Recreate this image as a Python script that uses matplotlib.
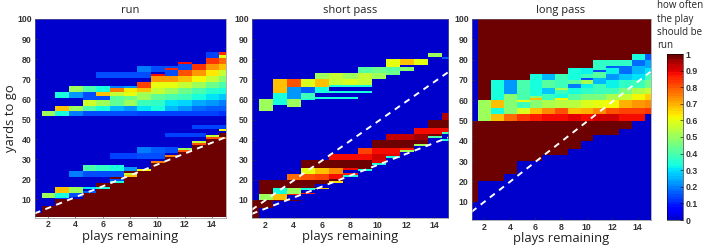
import numpy as np
import matplotlib
matplotlib.use("Agg")
import matplotlib.pyplot as plt
from matplotlib.colors import ListedColormap

plays = list(range(1, 16))
x_ticks = [2, 4, 6, 8, 10, 12, 14]
y_ticks = [10, 20, 30, 40, 50, 60, 70, 80, 90, 100]
bar_ticks = [0, 0.1, 0.2, 0.3, 0.4, 0.5, 0.6, 0.7, 0.8, 0.9, 1]
bar_labels = ["0", "0.1", "0.2", "0.3", "0.4", "0.5", "0.6", "0.7", "0.8", "0.9", "1"]

# each play: (yards from, yards to, how often the play should be run)
run_cells = {
    1: [(0, 3, 1)],
    2: [(0, 6.5, 1), (10.5, 13, 0.5), (51, 53.5, 0.5)],
    3: [(0, 10, 1), (10, 10.5, 0.12), (10.5, 13, 0.33), (13, 16, 0.68), (51, 53.5, 0.33), (53.5, 56, 0.68), (60, 63, 0.33)],
    4: [(0, 10, 1), (11, 13, 0.15), (13, 16, 0.5), (21, 24, 0.2), (51, 53.5, 0.2), (53.5, 56, 0.5), (60, 63, 0.22), (63, 66, 0.5)],
    5: [(0, 13, 1), (13, 14, 0.16), (15, 16, 0.3), (21, 24, 0.15), (24, 27, 0.4), (51, 53.5, 0.15), (53.5, 56, 0.4), (56, 59, 0.57), (59, 63, 0.15), (63, 66, 0.4)],
    6: [(0, 15, 1), (15, 16, 0.33), (16, 18, 1), (21, 24, 0.15), (24, 27, 0.36), (51, 53.5, 0.15), (53.5, 56, 0.33), (56, 59, 0.5), (59, 61, 0.15), (61, 63, 0.68), (63, 66, 0.33), (70, 73, 0.15)],
    7: [(0, 18, 1), (18, 19, 0.33), (19, 20, 0.15), (20, 21, 1), (21, 24, 0.15), (24, 27, 0.34), (30, 33, 0.14), (51, 53.5, 0.15), (53.5, 56, 0.26), (56, 59, 0.43), (59, 61, 0.42), (61, 63, 0.55), (63, 65, 0.75), (65, 66, 0.2), (70, 73, 0.15)],
    8: [(0, 21, 1), (21, 22, 0.68), (22, 23, 0.55), (23, 24, 1), (24, 26, 0.22), (30, 33, 0.14), (51, 53.5, 0.15), (53.5, 56, 0.22), (56, 59, 0.5), (59, 61, 0.45), (61, 63, 0.6), (63, 65, 0.63), (65, 66, 0.22), (70, 73, 0.15)],
    9: [(0, 24, 1), (24, 25, 0.62), (30, 33, 0.15), (33, 36, 0.2), (51, 53.5, 0.13), (53.5, 56, 0.3), (56, 59, 0.38), (59, 62, 0.5), (62, 63, 0.52), (63, 65, 0.68), (65, 68, 0.82), (70, 73, 0.15), (73, 76, 0.2)],
    10: [(0, 28, 1), (28, 29, 0.75), (30, 33, 0.15), (33, 36, 0.17), (51, 53.5, 0.13), (53.5, 56, 0.33), (56, 59, 0.36), (59, 62, 0.43), (62, 65, 0.55), (65, 68, 0.6), (68, 71, 0.72), (71, 72, 0.88), (73, 76, 0.15)],
    11: [(0, 31, 1), (31, 32, 0.75), (33, 36, 0.15), (41, 43, 0.13), (51, 53.5, 0.13), (53.5, 56, 0.26), (56, 59, 0.31), (59, 62, 0.4), (62, 65, 0.5), (65, 68, 0.6), (68, 71, 0.73), (71, 74, 0.15), (74, 75, 0.85), (75, 76, 0.15)],
    12: [(0, 33.5, 1), (33.5, 34.5, 0.8), (34.5, 35.5, 0.5), (41, 43, 0.13), (51, 53.5, 0.13), (53.5, 56, 0.22), (56, 59, 0.29), (59, 62, 0.38), (62, 65, 0.45), (65, 68, 0.55), (68, 71, 0.68), (71, 74, 0.8), (74, 77, 0.15), (77, 78, 0.88)],
    13: [(0, 37, 1), (37, 38, 0.8), (38, 39, 0.55), (41, 43, 0.13), (45, 47, 0.13), (51, 53.5, 0.13), (53.5, 56, 0.18), (56, 59, 0.24), (59, 62, 0.33), (62, 65, 0.4), (65, 68, 0.5), (68, 71, 0.62), (71, 74, 0.72), (74, 77, 0.84)],
    14: [(0, 40, 1), (40, 41, 0.8), (41, 42, 0.55), (45, 47, 0.13), (51, 53.5, 0.13), (53.5, 56, 0.17), (56, 59, 0.22), (59, 62, 0.3), (62, 65, 0.35), (65, 68, 0.45), (68, 71, 0.55), (71, 74, 0.63), (74, 77, 0.73), (77, 80, 0.84), (80, 83, 0.14)],
    15: [(0, 40, 1), (40, 41, 0.78), (41, 43, 1), (44, 45, 0.62), (45, 47, 0.13), (51, 53.5, 0.12), (53.5, 56, 0.16), (56, 59, 0.2), (59, 62, 0.28), (62, 65, 0.33), (65, 68, 0.4), (68, 71, 0.48), (71, 74, 0.56), (74, 77, 0.68), (77, 80, 0.78), (80, 81.5, 0.6), (81.5, 83, 0.85)],
}

short_cells = {
    1: [(0, 10, 1)],
    2: [(6, 10, 1), (10, 13, 0.5), (13, 20, 1), (54, 60, 0.5)],
    3: [(9.5, 10, 1), (10, 13, 0.68), (13, 16, 0.33), (16, 20, 1), (57, 63, 0.33), (63, 70, 0.68)],
    4: [(9.5, 10, 1), (12.5, 13, 0.86), (13, 16, 0.5), (16, 20, 1), (20, 23, 0.78), (56, 60, 0.5), (60, 66, 0.22), (66, 70, 0.8)],
    5: [(13, 13.5, 0.86), (15, 16, 0.33), (16, 20, 1), (20, 23, 0.8), (23, 26, 0.6), (26, 30, 1), (59.5, 60, 0.33), (60, 63, 0.38), (63, 66, 0.16), (66, 70, 0.58)],
    6: [(15.5, 16, 0.68), (18, 20, 1), (20, 23, 0.82), (23, 26, 0.68), (26, 30, 1), (60, 61, 0.33), (63, 66, 0.33), (66, 70, 0.68), (70, 73, 0.5)],
    7: [(18.5, 19.5, 0.65), (19.5, 20.5, 1), (20.5, 23, 0.88), (23, 26, 0.74), (26, 30, 1), (30, 33, 0.88), (60, 61, 0.33), (63, 64, 0.33), (66, 67, 0.33), (67, 73, 0.55)],
    8: [(21.5, 22.5, 0.33), (22.5, 23.5, 0.87), (25, 26, 0.88), (26, 30, 1), (30, 33, 0.88), (60, 61, 0.33), (63, 64, 0.33), (66, 67, 0.33), (67, 70, 0.58), (70, 73, 0.5)],
    9: [(24.5, 25.5, 0.33), (25.5, 30, 1), (30, 33, 0.88), (33, 36, 0.82), (63, 64, 0.33), (66, 67, 0.33), (67, 73, 0.55), (73, 76, 0.42)],
    10: [(27.5, 28.5, 0.33), (28.5, 30, 0.9), (30, 33, 0.91), (33, 36, 0.88), (36, 40, 1), (70, 73, 0.5), (73, 76, 0.45)],
    11: [(31, 32, 0.33), (32, 33, 0.9), (33, 36, 0.88), (36, 40, 1), (40, 43, 0.93), (72, 74, 0.45), (74, 76, 0.42), (76, 80, 0.6)],
    12: [(34, 35, 0.5), (35, 36, 0.86), (36, 40, 1), (40, 43, 0.93), (74, 76, 0.48), (77, 80, 0.68)],
    13: [(37, 38, 0.5), (38, 40, 1), (40, 43, 0.96), (43, 46, 0.88), (77, 80, 0.6)],
    14: [(41, 42, 0.4), (42, 43, 1), (43, 46, 0.88), (46, 50, 1), (81, 83, 0.5)],
    15: [(39.5, 40.5, 0.33), (43, 44, 0.4), (44, 46, 0.88), (46, 50, 1), (50, 53, 0.95), (80, 81, 0.17)],
}

long_cells = {
    1: [(10, 50, 1)],
    2: [(20, 50, 1), (50, 60, 0.5), (60, 100, 1)],
    3: [(20, 50, 1), (50, 53, 0.68), (53, 56, 0.33), (56, 60, 0.68), (60, 70, 0.33), (70, 100, 1)],
    4: [(23.5, 50, 1), (50, 53, 0.78), (53, 63, 0.48), (63, 70, 0.22), (70, 100, 1)],
    5: [(30, 50, 1), (50, 53, 0.84), (53, 56, 0.58), (56, 59, 0.38), (59, 60, 0.6), (60, 70, 0.4), (70, 100, 1)],
    6: [(30, 50, 1), (50, 53, 0.87), (53, 56, 0.68), (56, 60, 0.47), (60, 61, 0.68), (61, 62, 0.47), (62, 73, 0.33), (73, 100, 1)],
    7: [(33, 50, 1), (50, 53, 0.88), (53, 56, 0.74), (56, 60, 0.52), (60, 63, 0.38), (63, 66, 0.27), (66, 70, 0.42), (70, 73, 0.26), (73, 100, 1)],
    8: [(33, 50, 1), (50, 53, 0.88), (53, 56, 0.8), (56, 60, 0.54), (60, 61, 0.62), (61, 63, 0.34), (63, 65, 0.38), (65, 66, 0.52), (66, 73, 0.38), (73, 100, 1)],
    9: [(36, 50, 1), (50, 53, 0.9), (53, 56, 0.68), (56, 60, 0.54), (60, 63, 0.42), (63, 66, 0.33), (66, 68, 0.2), (68, 70, 0.42), (70, 76, 0.33), (76, 100, 1)],
    10: [(40, 50, 1), (50, 53, 0.89), (53, 56, 0.7), (56, 60, 0.58), (60, 63, 0.46), (63, 66, 0.36), (66, 68, 0.32), (68, 70, 0.52), (70, 71, 0.15), (71, 73, 0.38), (73, 76, 0.32), (76, 100, 1)],
    11: [(43, 50, 1), (50, 53, 0.92), (53, 56, 0.74), (56, 60, 0.6), (60, 63, 0.46), (63, 68, 0.38), (68, 71, 0.26), (71, 74, 0.42), (74, 75, 0.15), (75, 80, 0.36), (80, 100, 1)],
    12: [(43, 50, 1), (50, 53, 0.92), (53, 56, 0.8), (56, 60, 0.62), (60, 63, 0.52), (63, 66, 0.38), (66, 70, 0.32), (70, 73, 0.22), (73, 76, 0.32), (76, 77, 0.16), (77, 80, 0.36), (80, 100, 1)],
    13: [(46, 50, 1), (50, 53, 0.88), (53, 56, 0.82), (56, 60, 0.7), (60, 63, 0.56), (63, 66, 0.46), (66, 70, 0.36), (70, 73, 0.28), (73, 77, 0.18), (77, 80, 0.36), (80, 100, 1)],
    14: [(50, 53, 0.88), (53, 56, 0.82), (56, 60, 0.73), (60, 63, 0.62), (63, 66, 0.52), (66, 70, 0.38), (70, 73, 0.3), (73, 77, 0.26), (77, 80, 0.18), (80, 83, 0.33), (83, 100, 1)],
    15: [(53, 56, 0.84), (56, 60, 0.74), (60, 63, 0.66), (63, 66, 0.55), (66, 70, 0.45), (70, 73, 0.38), (73, 76, 0.3), (76, 80, 0.24), (80, 83, 0.17), (83, 100, 1)],
}

# dashed white lines, yards at play 1 and play 15
run_lines = [(3, 41)]
short_lines = [(3, 41), (5, 73.5)]
long_lines = [(5, 74)]

jet_colors = plt.get_cmap("jet")(np.linspace(0.07, 1, 64))
jet_colors[-1] = (0.43, 0, 0, 1)
jet_colors[-2] = (0.47, 0, 0, 1)
cmap = ListedColormap(jet_colors)


def to_grid(cells):
    # half yard rows so the thin stripes fit
    grid = np.zeros((200, len(plays)))
    for play, segs in cells.items():
        for lo, hi, val in segs:
            grid[int(lo * 2):int(hi * 2), play - 1] = val
    return grid


def draw_panel(box, cells, lines, title):
    ax = fig.add_axes([box[0] / W, 1 - box[3] / H, (box[2] - box[0]) / W, (box[3] - box[1]) / H])
    im = ax.imshow(to_grid(cells), origin="lower", aspect="auto", cmap=cmap, vmin=0, vmax=1,
                   extent=(0.5, 15.5, 0, 100), interpolation="nearest")
    for y1, y15 in lines:
        ax.plot([1, 15], [y1, y15], color="white", lw=1.4, dashes=(3.2, 2.8))
    ax.set_xlim(1, 15)
    ax.set_ylim(1, 100)
    ax.set_xticks(x_ticks)
    ax.set_yticks(y_ticks)
    ax.tick_params(direction="in", length=2, width=0.4, color="#333333", labelsize=6.3,
                   labelcolor="#333333", pad=2, top=False, right=False)
    for lab in ax.get_xticklabels() + ax.get_yticklabels():
        lab.set_fontfamily("Liberation Sans")
        lab.set_fontweight("bold")
    for sp in ax.spines.values():
        sp.set_linewidth(0.4)
        sp.set_color("#777777")
    ax.set_title(title, fontsize=8, color="#222222", pad=4.5, fontfamily="Open Sans")
    ax.set_xlabel("plays remaining", fontsize=9.4, color="#222222", labelpad=0.5, fontfamily="Open Sans")
    return ax, im


W, H = 706, 250
fig = plt.figure(figsize=(W / 100, H / 100), dpi=100)

ax1, im = draw_panel((34.5, 19, 225.5, 217.5), run_cells, run_lines, "run")
ax1.set_ylabel("yards to go", fontsize=9.4, color="#222222", labelpad=0, fontfamily="Open Sans")
draw_panel((251.5, 19, 448, 218), short_cells, short_lines, "short pass")
draw_panel((471.5, 19, 650.5, 220), long_cells, long_lines, "long pass")

cax = fig.add_axes([667 / W, 1 - 220 / H, 15.5 / W, 166 / H])
cb = fig.colorbar(im, cax=cax, ticks=bar_ticks)
cb.ax.set_yticklabels(bar_labels)
cb.ax.tick_params(direction="in", length=2, width=0.4, labelsize=6.3, labelcolor="#333333", pad=2)
for lab in cb.ax.get_yticklabels():
    lab.set_fontfamily("Liberation Sans")
    lab.set_fontweight("bold")
cb.outline.set_linewidth(0.4)

fig.text(657 / W, 1 - 0.5 / H, "how often\nthe play\nshould be\nrun", fontsize=7, color="#222222",
         va="top", ha="left", linespacing=1.28, fontfamily="Open Sans")

fig.savefig("out.png", dpi=100)
